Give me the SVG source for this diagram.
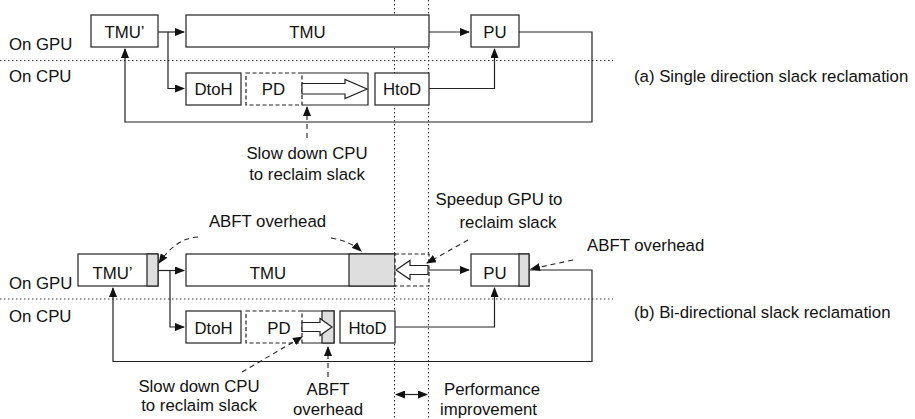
<svg xmlns="http://www.w3.org/2000/svg" width="915" height="419" viewBox="0 0 915 419">
<defs>
<marker id="ah" markerWidth="10" markerHeight="8" refX="9" refY="4" orient="auto" markerUnits="userSpaceOnUse">
<path d="M0,0 L10,4 L0,8 Z" fill="#111"/>
</marker>
<marker id="ahs" markerWidth="10" markerHeight="8" refX="1" refY="4" orient="auto" markerUnits="userSpaceOnUse">
<path d="M10,0 L0,4 L10,8 Z" fill="#111"/>
</marker>
<style>
.box{fill:#fff;stroke:#222;stroke-width:1.2}
.dbox{fill:#fff;stroke:#222;stroke-width:1.2;stroke-dasharray:4 2.5}
.gray{fill:#dedede;stroke:#222;stroke-width:1.2}
.ln{fill:none;stroke:#222;stroke-width:1.2}
.con{fill:none;stroke:#222;stroke-width:1.2}
.dash{fill:none;stroke:#222;stroke-width:1.1;stroke-dasharray:5 4}
.dot{fill:none;stroke:#333;stroke-width:1.1;stroke-dasharray:1.5 2.5}
.hol{fill:#fff;stroke:#222;stroke-width:1.2}
text{font-family:"Liberation Sans",Arial,Helvetica,sans-serif;font-size:16.8px;fill:#111}
.m{text-anchor:middle}
</style>
</defs>
<rect width="915" height="419" fill="#fff"/>

<!-- guide lines -->
<g id="guides">
<path class="dot" d="M0,60.5 H613"/>
<path class="dot" d="M0,299 H613"/>
<path class="dot" d="M394.5,0 V419"/>
<path class="dot" d="M428.5,0 V419"/>
</g>

<!-- labels (a) -->
<g id="labels-a">
<text x="9" y="50">On GPU</text>
<text x="9" y="82">On CPU</text>
<text x="634" y="82">(a) Single direction slack reclamation</text>
<text class="m" x="307" y="159">Slow down CPU</text>
<text class="m" x="307" y="179.5">to reclaim slack</text>
</g>

<!-- nodes (a) -->
<g id="a-tmu-prime"><rect class="box" x="91" y="15" width="67" height="32"/><text class="m" x="124.5" y="37.5">TMU’</text></g>
<g id="a-tmu"><rect class="box" x="186" y="15" width="243" height="32"/><text class="m" x="307.5" y="37.5">TMU</text></g>
<g id="a-pu"><rect class="box" x="471" y="15" width="48" height="32"/><text class="m" x="495" y="37.5">PU</text></g>
<g id="a-dtoh"><rect class="box" x="186" y="73" width="55" height="32"/><text class="m" x="213.5" y="94.5">DtoH</text></g>
<g id="a-pd">
<rect class="dbox" x="246" y="73" width="56" height="32"/>
<path class="ln" d="M302,73 H368 V105 H302"/>
<text class="m" x="273.5" y="94.5">PD</text>
<path class="hol" d="M302,83.5 H345 V79.5 L367,89 L345,98.5 V94 H302 Z"/>
</g>
<g id="a-htod"><rect class="box" x="375" y="73" width="54" height="32"/><text class="m" x="402" y="94.5">HtoD</text></g>

<!-- connectors (a) -->
<g id="connectors-a">
<path class="con" d="M158,32 H184" marker-end="url(#ah)"/>
<path class="con" d="M168,32 V88.5 H184" marker-end="url(#ah)"/>
<path class="con" d="M429,32 H469" marker-end="url(#ah)"/>
<path class="con" d="M429,88.5 H494.5 V49" marker-end="url(#ah)"/>
<path class="con" d="M519,32 H592 V122 H125 V49" marker-end="url(#ah)"/>
<path class="dash" d="M307,138 V107" marker-end="url(#ah)"/>
</g>

<!-- labels (b) -->
<g id="labels-b">
<text x="9" y="289">On GPU</text>
<text x="9" y="321.5">On CPU</text>
<text x="634" y="318">(b) Bi-directional slack reclamation</text>
<text class="m" x="267.5" y="227">ABFT overhead</text>
<text class="m" x="499" y="205">Speedup GPU to</text>
<text class="m" x="508" y="228">reclaim slack</text>
<text x="587" y="251">ABFT overhead</text>
<text class="m" x="199" y="392">Slow down CPU</text>
<text class="m" x="199" y="411">to reclaim slack</text>
<text class="m" x="328" y="395">ABFT</text>
<text class="m" x="328" y="414.5">overhead</text>
<text x="444" y="395">Performance</text>
<text x="440" y="414.5">improvement</text>
</g>

<!-- nodes (b) -->
<g id="b-tmu-prime">
<rect class="box" x="78" y="254" width="80" height="32"/>
<rect class="gray" x="147" y="254" width="11" height="32"/>
<text class="m" x="112.5" y="279">TMU’</text>
</g>
<g id="b-tmu">
<rect class="box" x="186" y="254" width="209" height="32"/>
<rect class="gray" x="349" y="254" width="46" height="32"/>
<text class="m" x="268" y="279">TMU</text>
</g>
<g id="b-slack">
<rect class="dbox" x="395" y="254" width="34" height="32" fill="none"/>
<path class="hol" d="M428,265.5 H410 V260.5 L396,270 L410,279.5 V274.5 H428 Z"/>
</g>
<g id="b-pu">
<rect class="box" x="471" y="254" width="58" height="32"/>
<rect class="gray" x="519" y="254" width="10" height="32"/>
<text class="m" x="495" y="279">PU</text>
</g>
<g id="b-dtoh"><rect class="box" x="186" y="311" width="55" height="32"/><text class="m" x="213.5" y="334">DtoH</text></g>
<g id="b-pd">
<rect class="dbox" x="246" y="311" width="56" height="32"/>
<path class="ln" d="M302,311 H334 V343 H302"/>
<rect class="gray" x="322" y="311" width="12" height="32"/>
<text class="m" x="279" y="334">PD</text>
<path class="hol" d="M302,322.5 H320 V318.5 L332,327 L320,335.5 V331.5 H302 Z"/>
</g>
<g id="b-htod"><rect class="box" x="340" y="311" width="55" height="32"/><text class="m" x="367.5" y="334">HtoD</text></g>

<!-- connectors (b) -->
<g id="connectors-b">
<path class="con" d="M158,270.5 H184" marker-end="url(#ah)"/>
<path class="con" d="M170,270.5 V327 H184" marker-end="url(#ah)"/>
<path class="con" d="M429,270 H469" marker-end="url(#ah)"/>
<path class="con" d="M395,327 H494.5 V288" marker-end="url(#ah)"/>
<path class="con" d="M529,270 H592 V361.5 H113 V288" marker-end="url(#ah)"/>
<path class="con" d="M396,394.5 H427" marker-start="url(#ahs)" marker-end="url(#ah)"/>
<path class="dash" d="M198,237 Q176,238 159,263" marker-end="url(#ah)"/>
<path class="dash" d="M331,238 Q350,241 361,251" marker-end="url(#ah)"/>
<path class="dash" d="M468,240 L427,263" marker-end="url(#ah)"/>
<path class="dash" d="M573,260 L531,269" marker-end="url(#ah)"/>
<path class="dash" d="M242,372 L302,337" marker-end="url(#ah)"/>
<path class="dash" d="M328,377 V347" marker-end="url(#ah)"/>
</g>
</svg>
